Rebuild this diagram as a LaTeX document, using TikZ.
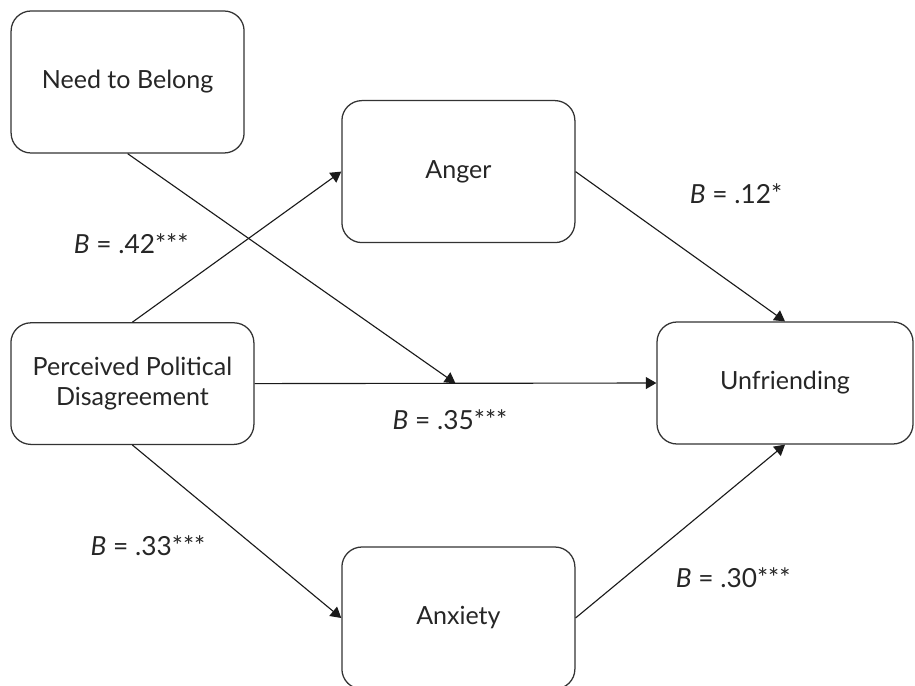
\documentclass[tikz,border=0pt]{standalone}
\usepackage{fontspec}
\setmainfont{Lato}
\usetikzlibrary{arrows.meta}
\definecolor{BoxLine}{HTML}{333333}
\definecolor{ArrLine}{HTML}{1A1A1A}

\begin{document}
\begin{tikzpicture}[
  font=\fontsize{17.8}{22}\selectfont,
  % ── variable box (rounded rectangle) ─────────────────────────────────────
  var/.style={
    draw=BoxLine, fill=white, line width=0.9pt,
    rounded corners=0.5cm,
    minimum width=5.825cm, minimum height=3.55cm,
    align=center, text=black!85
  },
  % ── path coefficient ─────────────────────────────────────────────────────
  coef/.style={text=black!85, inner sep=1pt, font=\fontsize{18.7}{22}\selectfont},
  % ── arrows ───────────────────────────────────────────────────────────────
  arr/.style={-{Triangle[length=7.5pt,width=8.5pt]}, draw=ArrLine, line width=0.8pt},
]
\useasboundingbox (0,0) rectangle (22.875,-17.125);

%% ── Predictors, mediators and outcome ──
\node[var] (NB)  at (3.19,-2.05)   {Need to Belong};
\node[var] (ANG) at (11.46,-4.29)  {Anger};
\node[var, minimum width=6.075cm, minimum height=3.04cm]
      (PPD) at (3.31,-9.59)  {Perceived Political\\Disagreement};
\node[var, minimum width=6.4cm, minimum height=3.05cm]
      (UNF) at (19.625,-9.575) {Unfriending};
\node[var] (ANX) at (11.46,-15.45) {Anxiety};

%% ── Paths ────────────────────────────────────────────────────────────────
\draw[arr] (PPD.north) -- (ANG.west);
\draw[arr] (PPD.east)  -- coordinate (meet) (UNF.west);
\draw[arr] (NB.south)  -- (meet);
\draw[arr] (PPD.south) -- (ANX.west);
\draw[arr] (ANG.east)  -- (UNF.north);
\draw[arr] (ANX.east)  -- (UNF.south);

%% ── Coefficients ─────────────────────────────────────────────────────────
\node[coef] (bANG) at (3.28,-6.1)    {\textit{B} = .42***};
\node[coef] (bANU) at (18.4,-4.85)   {\textit{B} = .12*};
\node[coef] (bDIR) at (11.25,-10.5)  {\textit{B} = .35***};
\node[coef] (bANX) at (3.7,-13.65)   {\textit{B} = .33***};
\node[coef] (bAXU) at (18.33,-14.45) {\textit{B} = .30***};

\end{tikzpicture}
\end{document}
